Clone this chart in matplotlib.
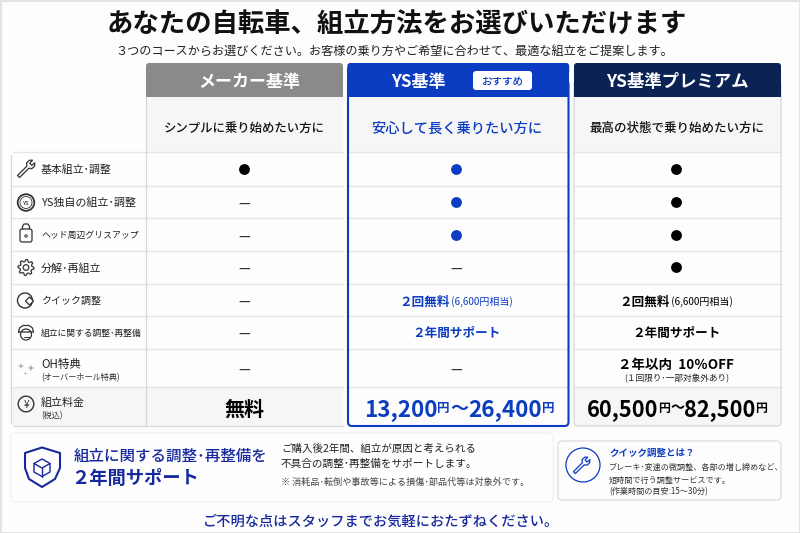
import numpy as np
import matplotlib
matplotlib.use('Agg')
import matplotlib.pyplot as plt
from matplotlib.patches import Circle, FancyBboxPatch, Polygon, Rectangle

plt.rcParams['font.family'] = ['Noto Sans CJK JP', 'DejaVu Sans']

TITLE = "あなたの自転車、組立方法をお選びいただけます"
SUBTITLE = "３つのコースからお選びください。お客様の乗り方やご希望に合わせて、最適な組立をご提案します。"
COURSES = ["メーカー基準", "YS基準", "YS基準プレミアム"]
BADGE = "おすすめ"
TARGETS = ["シンプルに乗り始めたい方に", "安心して長く乗りたい方に", "最高の状態で乗り始めたい方に"]
ROW_LABELS = ["基本組立･調整", "YS独自の組立･調整", "ヘッド周辺グリスアップ", "分解･再組立",
              "クイック調整", "組立に関する調整･再整備"]
ROW_LABEL_PX = [10.9, 11, 8.9, 11, 10, 8.8]
MAKER = ["●", "—", "—", "—", "—", "—", "—"]
YS = ["●", "●", "●", "—", "２回無料", "２年間サポート", "—"]
PREMIUM = ["●", "●", "●", "●", "２回無料", "２年間サポート", "２年以内  10％OFF"]
WORTH = "(6,600円相当)"
OH_NOTE = "(１回限り･一部対象外あり)"
PRICE_FREE = "無料"
PRICE_YS = ["13,200", "26,400"]
PRICE_PREMIUM = ["60,500", "82,500"]

BLUE = '#0b3cc1'
NAVY = '#0a2354'
TEXT_BLUE = '#16289c'
LINE = '#e4e5ea'
EDGE = '#d6d7dd'
SHADE = '#f6f6f7'
PAGE = '#fdfdfd'

ROW_EDGES = [152, 185.5, 218, 251, 283.5, 316, 348.5, 387, 426]
COL_X = [244, 456, 676]

fig = plt.figure(figsize=(8, 5.33), dpi=100, facecolor=PAGE)
ax = fig.add_axes([0, 0, 1, 1])
ax.set_xlim(0, 800)
ax.set_ylim(533, 0)
ax.axis('off')


def txt(x, y, s, px, color='#111111', weight='normal', ha='center'):
    return ax.text(x, y, s, fontsize=px * 0.72, color=color, fontweight=weight,
                   ha=ha, va='center_baseline', zorder=6)


def runs(x, y, parts, color, weight=700):
    # parts of different size set side by side, centred on x
    rend = fig.canvas.get_renderer()
    items = [txt(0, y, s, px, color, w or weight, ha='left') for s, px, w in parts]
    widths = [t.get_window_extent(rend).width for t in items]
    cur = x - sum(widths) / 2
    for t, w in zip(items, widths):
        t.set_x(cur)
        cur += w


def box(x0, y0, x1, y1, fc='none', ec='none', lw=1.0, r=4, z=2):
    p = FancyBboxPatch((x0 + r, y0 + r), x1 - x0 - 2 * r, y1 - y0 - 2 * r,
                       boxstyle=f"round,pad={r},rounding_size={r}",
                       fc=fc, ec=ec, lw=lw, zorder=z)
    ax.add_patch(p)
    return p


def header(x0, y0, x1, y1, color):
    box(x0, y0, x1, y0 + 12, fc=color, r=3, z=4)
    ax.add_patch(Rectangle((x0, y0 + 5), x1 - x0, y1 - y0 - 5, fc=color, ec='none', zorder=4))


def line(xs, ys, color='#333333', lw=1.0):
    ax.plot(xs, ys, color=color, lw=lw, solid_capstyle='round', zorder=5)


def ring(x, y, r, color='#333333', lw=1.0, fc='none'):
    ax.add_patch(Circle((x, y), r, fc=fc, ec=color, lw=lw, zorder=5))


def shape(pts, color='#333333', lw=1.0, fc='none'):
    ax.add_patch(Polygon(pts, fc=fc, ec=color, lw=lw, joinstyle='round', zorder=5))


def wrench(cx, cy, color, lw=1.0, s=1.0):
    # handle runs from lower left to the open jaw at upper right
    pts = np.array([[-6.5, 8.5], [-8.5, 6.5], [1.0, -3.0], [0.5, -6.0], [3.5, -8.8], [6.5, -8.8],
                    [3.8, -5.8], [5.8, -3.6], [8.8, -6.2], [8.6, -2.8], [5.8, -0.3], [3.0, -0.8]])
    shape(np.column_stack([cx + pts[:, 0] * s, cy + pts[:, 1] * s]), color, lw)


def cog(cx, cy, outer, inner, teeth, color, lw):
    ang = np.linspace(0, 2 * np.pi, teeth * 4, endpoint=False)
    rad = np.tile([outer, outer, inner, inner], teeth)
    shape(np.column_stack([cx + rad * np.cos(ang), cy + rad * np.sin(ang)]), color, lw)


def sparkle(x, y, r, color='#a8a8a8'):
    shape([[x, y - r], [x + r * 0.25, y - r * 0.25], [x + r, y], [x + r * 0.25, y + r * 0.25],
           [x, y + r], [x - r * 0.25, y + r * 0.25], [x - r, y], [x - r * 0.25, y - r * 0.25]],
          'none', 0, color)


def icons():
    c = '#333333'
    wrench(26, 169, c, 0.9)
    ring(26, 202.5, 8.3, c, 1.3)
    ring(26, 202.5, 6, c, 0.6)
    txt(26, 202.8, "YS", 5.6, c, 500)
    box(20, 229, 32, 242, fc=PAGE, ec=c, lw=0.9, r=2, z=5)
    line([22.5, 22.5, 24, 28, 29.5, 29.5], [229, 226.5, 224, 224, 226.5, 229], c, 0.9)
    ring(26, 236, 1.2, c, 0.7)
    cog(26, 267.5, 8, 6, 8, c, 0.9)
    ring(26, 267.5, 2.8, c, 0.9)
    ax.add_patch(Circle((25, 300.5), 7.5, fc='none', ec=c, lw=1.0, zorder=5))
    shape([[29.5, 297], [33.5, 301], [29.5, 305], [25.5, 301]], c, 0.9, '#fefefe')
    ring(26, 334.5, 5.5, c, 0.9)
    line([18.5, 19.5, 23, 29, 32.5, 33.5, 18.5], [332, 328, 325.5, 325.5, 328, 332, 332], c, 0.9)
    line([23.5, 28.5], [337, 337], c, 0.7)
    sparkle(21, 366, 3.2)
    sparkle(31, 368, 3.6)
    sparkle(25.5, 373.5, 1.8)
    ring(26, 404, 7.8, c, 1.0)
    txt(26, 404, "¥", 10, c)


# outer frame of the page
ax.add_patch(Rectangle((0.5, 0.5), 799, 532, fc='none', ec='#dedede', lw=1.2))

txt(396.5, 22, TITLE, 26.4, '#111111', 700)
txt(394.5, 50, SUBTITLE, 12.15, '#222222')

# cell backgrounds
ax.add_patch(Rectangle((146, 97), 197, 55, fc=SHADE, ec='none', zorder=1))
ax.add_patch(Rectangle((349, 97), 218, 55, fc=SHADE, ec='none', zorder=1))
ax.add_patch(Rectangle((574, 97), 207, 55, fc=SHADE, ec='none', zorder=1))
box(11, 152, 60, 426, fc=SHADE, r=3, z=1)
ax.add_patch(Rectangle((40, 387), 303, 39, fc=SHADE, ec='none', zorder=1))
ax.add_patch(Rectangle((11, 153), 135, 234, fc='#fefefe', ec='none', zorder=1))
box(574, 370, 781, 426, fc=SHADE, r=4, z=1)
ax.add_patch(Rectangle((574, 349), 207, 38, fc=PAGE, ec='none', zorder=1))

# grid lines
for y in ROW_EDGES[1:-1]:
    ax.plot([11, 343], [y, y], color=LINE, lw=1.0, zorder=2)
    ax.plot([349, 567], [y, y], color=LINE, lw=1.0, zorder=2)
    ax.plot([574, 781], [y, y], color=LINE, lw=1.0, zorder=2)
ax.plot([14, 343], [152, 152], color=LINE, lw=1.0, zorder=2)
ax.plot([349, 567], [152, 152], color=LINE, lw=1.0, zorder=2)
ax.plot([574, 781], [152, 152], color=LINE, lw=1.0, zorder=2)
ax.plot([14, 343], [426, 426], color=EDGE, lw=0.9, zorder=2)
ax.plot([146, 146], [97, 426], color=EDGE, lw=0.9, zorder=2)
ax.plot([11, 11], [155, 423], color=EDGE, lw=0.9, zorder=2)

# column frames, their top ends are hidden by the headers
box(574, 80, 781, 426, ec=EDGE, lw=0.9, r=4, z=3)
box(348, 80, 568.5, 426, ec=BLUE, lw=1.5, r=4, z=3)

header(146, 63, 343, 97, '#8a8a8a')
header(347.3, 63, 569.2, 97, BLUE)
header(574, 63, 781, 97, NAVY)

txt(249, 80, COURSES[0], 17, 'white', 700)
txt(418, 80, COURSES[1], 17, 'white', 700)
txt(677.5, 80, COURSES[2], 17.4, 'white', 700)
box(473, 71, 532, 90, fc='white', r=3, z=5)
txt(502.5, 81, BADGE, 10.5, BLUE, 500)

txt(244, 127, TARGETS[0], 12.4, '#111111', 500)
txt(457, 127, TARGETS[1], 14.3, BLUE, 500)
txt(677, 127, TARGETS[2], 12.5, '#111111', 500)

# row labels
centres = [(ROW_EDGES[i] + ROW_EDGES[i + 1]) / 2 for i in range(len(ROW_EDGES) - 1)]
for i, label in enumerate(ROW_LABELS):
    txt(41, centres[i], label, ROW_LABEL_PX[i], '#222222', ha='left')
txt(41, 362.5, "OH特典", 11.5, '#222222', ha='left')
txt(41, 376.5, "(オーバーホール特典)", 8.2, '#333333', ha='left')
txt(41, 402, "組立料金", 11, '#222222', ha='left')
txt(41, 415, "(税込)", 8, '#333333', ha='left')
icons()

# table cells
for x, col, color in [(COL_X[0], MAKER, '#000000'), (COL_X[1], YS, BLUE), (COL_X[2], PREMIUM, '#000000')]:
    for i, val in enumerate(col):
        if val == "●":
            ax.plot(x, centres[i], 'o', color=color, ms=7.8, mec='none', zorder=5)
        elif val == "—":
            txt(x, centres[i], val, 13, '#333333', 500)
        elif val == "２回無料":
            runs(x, centres[i] + 0.5, [(val, 12.6, 700), (" " + WORTH, 10, 'normal')], color)
        elif val == "２年間サポート":
            txt(x, centres[i], val, 12.6, color, 700)
        else:
            txt(x, 364, val, 13.5, color, 700)
            txt(x + 1, 378, OH_NOTE, 8.7, '#222222')

txt(244, 407, PRICE_FREE, 20, '#000000', 700)
runs(COL_X[1] + 3, 407, [(PRICE_YS[0], 22.5, None), ("円", 12.5, None), ("～", 18, None),
                         (PRICE_YS[1], 22.5, None), ("円", 12.5, None)], BLUE)
runs(COL_X[2] + 1, 407, [(PRICE_PREMIUM[0], 21.8, None), ("円", 12, None), ("～", 14, None),
                         (PRICE_PREMIUM[1], 21.8, None), ("円", 12, None)], '#000000')

# bottom left panel
box(11, 433, 553, 502, fc='#fefeff', ec='#eceff9', lw=0.8, r=5)
shape([[42, 447.5], [60, 453], [60, 468], [55, 479], [42, 487], [29, 479], [25, 468], [25, 453]], TEXT_BLUE, 1.5)
shape([[42, 459], [50, 463.5], [50, 472], [42, 476.5], [34, 472], [34, 463.5]], TEXT_BLUE, 1.0)
line([34, 42, 50], [463.5, 468, 463.5], TEXT_BLUE, 1.0)
line([42, 42], [468, 476.5], TEXT_BLUE, 1.0)
txt(74, 454, "組立に関する調整･再整備を", 15.5, TEXT_BLUE, 500, ha='left')
txt(71, 476, "２年間サポート", 18.3, TEXT_BLUE, 700, ha='left')
txt(281, 448, "ご購入後2年間、組立が原因と考えられる", 10.5, '#222222', ha='left')
txt(281, 463, "不具合の調整･再整備をサポートします。", 10.6, '#222222', ha='left')
txt(281, 481, "※ 消耗品･転倒や事故等による損傷･部品代等は対象外です。", 9.1, '#444444', ha='left')

# quick adjustment box
box(558, 441, 781, 500, fc=PAGE, ec='#d8d9de', lw=0.8, r=4)
ring(583, 465, 17, BLUE, 0.9)
wrench(581.5, 465.5, BLUE, 0.9, 0.95)
txt(609, 452, "クイック調整とは？", 9.5, BLUE, 700, ha='left')
txt(609, 466, "ブレーキ･変速の微調整、各部の増し締めなど、", 8.1, '#333333', ha='left')
txt(609, 479, "短時間で行う調整サービスです。", 8.1, '#333333', ha='left')
txt(609, 491, "(作業時間の目安:15～30分)", 8.1, '#333333', ha='left')

txt(381, 520, "ご不明な点はスタッフまでお気軽におたずねください。", 14.2, TEXT_BLUE, 500)

fig.savefig('out.png', dpi=100, facecolor=fig.get_facecolor())
